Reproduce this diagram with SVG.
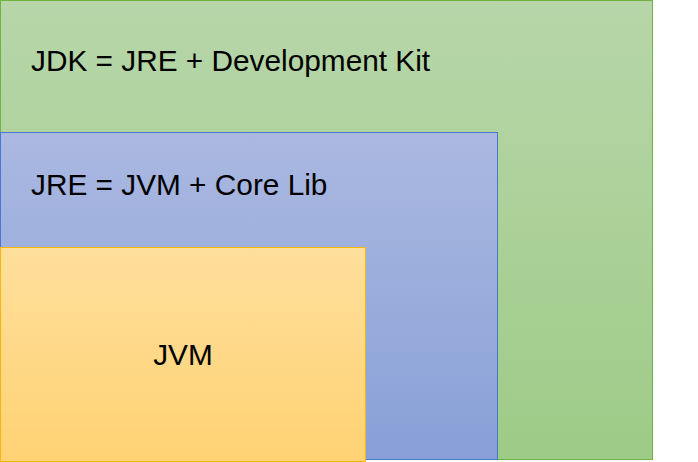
<svg xmlns="http://www.w3.org/2000/svg" width="698" height="462" viewBox="0 0 698 462">
<defs>
<linearGradient id="gG" x1="0" y1="0" x2="0" y2="1"><stop offset="0" stop-color="#b7d6a9"/><stop offset="1" stop-color="#9ecb87"/></linearGradient>
<linearGradient id="gB" x1="0" y1="0" x2="0" y2="1"><stop offset="0" stop-color="#abb9e1"/><stop offset="1" stop-color="#88a0d7"/></linearGradient>
<linearGradient id="gO" x1="0" y1="0" x2="0" y2="1"><stop offset="0" stop-color="#ffdf9c"/><stop offset="1" stop-color="#ffd273"/></linearGradient>
</defs>
<style>
text{font-family:"Liberation Sans",Arial,sans-serif;font-size:29.8px;fill:#000}
</style>
<g id="jdk">
<rect x="0.5" y="0.5" width="652" height="459" fill="url(#gG)" stroke="#70b244" stroke-width="1"/>
<text x="31" y="70.5">JDK = JRE + Development Kit</text>
</g>
<g id="jre">
<rect x="0.5" y="132.5" width="497" height="327" fill="url(#gB)" stroke="#4a78cc" stroke-width="1"/>
<text x="31" y="195">JRE = JVM + Core Lib</text>
</g>
<g id="jvm">
<rect x="0.5" y="247.5" width="365" height="214" fill="url(#gO)" stroke="#f5b70c" stroke-width="1"/>
<text x="183" y="364.5" text-anchor="middle">JVM</text>
</g>
<g id="connectors"/>
</svg>
